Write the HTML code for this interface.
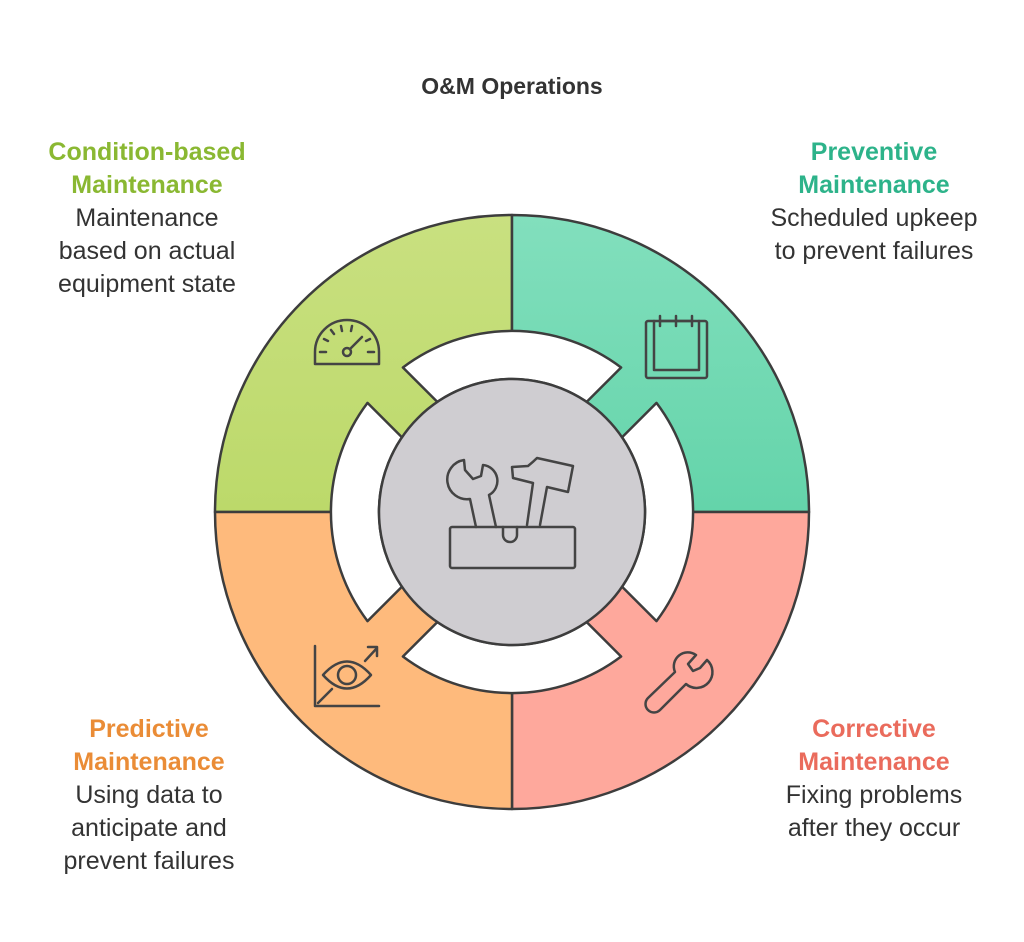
<!DOCTYPE html>
<html><head><meta charset="utf-8"><style>
html,body{margin:0;padding:0;background:#fff;}
body{width:1024px;height:942px;position:relative;overflow:hidden;font-family:"Liberation Sans",sans-serif;}
.t{position:absolute;text-align:center;font-size:25px;line-height:33px;color:#333;width:320px;}
.t b{display:block;}
</style></head><body>
<svg width="1024" height="942" style="position:absolute;left:0;top:0">
<defs>
<linearGradient id="g1" x1="0" y1="0" x2="0" y2="1"><stop offset="0" stop-color="#c9e080"/><stop offset="1" stop-color="#bcd96a"/></linearGradient>
<linearGradient id="g2" x1="0" y1="0" x2="0" y2="1"><stop offset="0" stop-color="#82dfbd"/><stop offset="1" stop-color="#64d4aa"/></linearGradient>
</defs>
<text x="512" y="94" text-anchor="middle" font-family="Liberation Sans" font-weight="bold" font-size="23" fill="#333">O&amp;M Operations</text>
<g stroke="#3d3d3d" stroke-width="2.5" stroke-linejoin="round">
<path d="M512 512 L215 512 A297 297 0 0 1 512 215 Z" fill="url(#g1)"/>
<path d="M512 512 L512 215 A297 297 0 0 1 809 512 Z" fill="url(#g2)"/>
<path d="M512 512 L809 512 A297 297 0 0 1 512 809 Z" fill="#fea89c"/>
<path d="M512 512 L512 809 A297 297 0 0 1 215 512 Z" fill="#feba7c"/>
<g fill="#fff">
<path id="wp" d="M402.9 367.5 A181 181 0 0 1 621.1 367.5 L586.7 401.9 A133 133 0 0 0 437.3 401.9 Z"/>
<use href="#wp" transform="rotate(90 512 512)"/>
<use href="#wp" transform="rotate(180 512 512)"/>
<use href="#wp" transform="rotate(270 512 512)"/>
</g>
<circle cx="512" cy="512" r="133" fill="#cfcdd1"/>
</g>
<g fill="none" stroke="#444" stroke-width="2.5" stroke-linecap="round" stroke-linejoin="round">
<path d="M315 364 L315 352 A32 32 0 0 1 379 352 L379 364 Z"/>
<circle cx="347" cy="352" r="4"/>
<path d="M350 349 L362 337 M320 352 L326 352 M368 352 L374 352 M324 339 L328 341 M331 330 L334 334 M341 326 L342 331 M352 326 L351 331 M370 339 L366 341"/>
<rect x="646" y="321" width="61" height="57" rx="2"/>
<path d="M654 321 L654 370 L699 370 L699 321 M660 316 L660 326 M676 316 L676 326 M692 316 L692 326 M660 321 L692 321"/>
<rect x="450" y="527" width="125" height="41" rx="2"/>
<path d="M503 527 L503 535 A7 7 0 0 0 517 535 L517 527"/>
<path d="M476 527 L470 499 A16 16 0 0 1 464 460 L465 470 L473 479 L481 476 L483 465 A16 16 0 0 1 489 495 L496 527"/>
<path d="M527 525 L533 483 L513 478 L512 467 L528 466 Q533 462 537 458 L573 466 L568 492 L547 487 L540 525"/>
<path d="M648 698 L675 672 A14 14 0 0 1 696 655 L688 664 L693 671 L700 668 L707 660 A14 14 0 0 1 686 684 L660 710 A8 8 0 0 1 648 698 Z"/>
<path d="M315 646 L315 706 L379 706 M318 703 L332 689 M365 661 L377 648 M368 647 L377 647 L377 656"/>
<path d="M323 675 Q347 648 371 675 Q347 702 323 675 Z"/>
<circle cx="347" cy="675" r="9"/>
</g>
</svg>
<div class="t" style="left:-13px;top:136px"><b style="color:#8ab832">Condition-based<br>Maintenance</b>Maintenance<br>based on actual<br>equipment state</div>
<div class="t" style="left:714px;top:136px"><b style="color:#2db38a">Preventive<br>Maintenance</b>Scheduled upkeep<br>to prevent failures</div>
<div class="t" style="left:-11px;top:713px"><b style="color:#ea8c36">Predictive<br>Maintenance</b>Using data to<br>anticipate and<br>prevent failures</div>
<div class="t" style="left:714px;top:713px"><b style="color:#ea6b5c">Corrective<br>Maintenance</b>Fixing problems<br>after they occur</div>
</body></html>
